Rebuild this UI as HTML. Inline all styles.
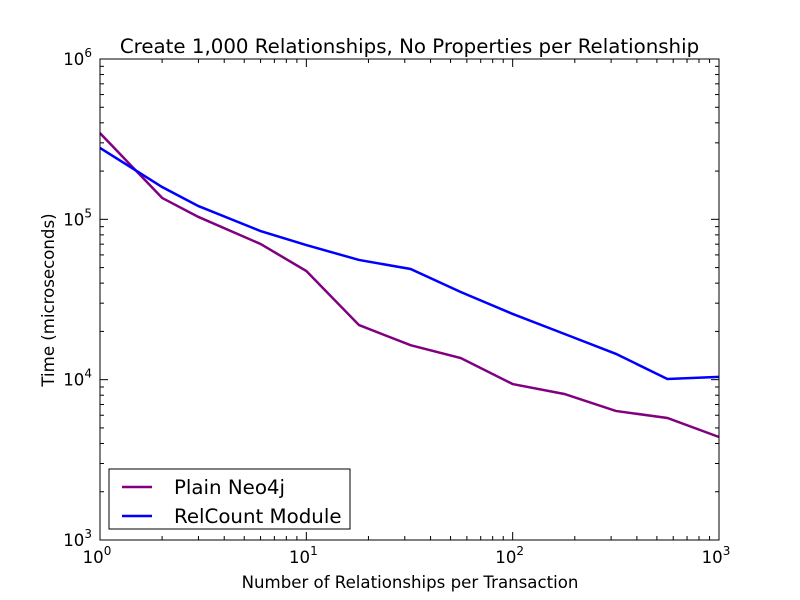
<!DOCTYPE html>
<html><head><meta charset="utf-8"><style>
body{margin:0;background:#fff;}
svg{display:block;font-family:"DejaVu Sans","Liberation Sans",sans-serif;}
</style></head><body>
<svg id="chart" width="800" height="600" viewBox="0 0 800 600" xmlns="http://www.w3.org/2000/svg">
<rect width="800" height="600" fill="#fff"/>
<text x="409.5" y="53" font-size="19.8" text-anchor="middle">Create 1,000 Relationships, No Properties per Relationship</text>
<text x="410" y="588" font-size="16.6" text-anchor="middle">Number of Relationships per Transaction</text>
<text x="54" y="300" font-size="16.6" text-anchor="middle" transform="rotate(-90 54 300)">Time (microseconds)</text>
<g id="plot"></g>
</svg>
<script>
const xValues=[1,2,3,6,10,18,32,56,100,178,316,562,1000];
const plainNeo4j=[345000,136000,103500,70200,47600,21900,16400,13650,9390,8140,6380,5770,4390];
const relCount=[279000,159000,121000,84500,69100,55800,49000,35200,25700,19300,14500,10100,10400];
const xTickExps=[0,1,2,3];
const yTickExps=[3,4,5,6];
const L=100,R=719,T=59,B=540;
const xs=v=>L+(R-L)*(Math.log10(v)-0)/3;
const ys=v=>B-(B-T)*(Math.log10(v)-3)/3;
const NS="http://www.w3.org/2000/svg";
const g=document.getElementById('plot');
function mk(t,a){const e=document.createElementNS(NS,t);for(const k in a)e.setAttribute(k,a[k]);g.appendChild(e);return e;}
[[plainNeo4j,'#800080','line-plain-neo4j'],[relCount,'#0000ff','line-relcount-module']].forEach(([d,c,n])=>{
 const p=mk('polyline',{points:xValues.map((x,i)=>xs(x)+','+ys(d[i])).join(' '),fill:'none',stroke:c,'stroke-width':2.5});
 
 
});
const fr=mk('rect',{x:L,y:T,width:R-L,height:B-T,fill:'none',stroke:'#000','stroke-width':1});


for(let e=0;e<3;e++)for(let m=1;m<10;m++){const x=xs(m*Math.pow(10,e));const len=m==1?8:4;
 mk('line',{x1:x,y1:B,x2:x,y2:B-len,stroke:'#000'});mk('line',{x1:x,y1:T,x2:x,y2:T+len,stroke:'#000'});}
for(let e=3;e<6;e++)for(let m=1;m<10;m++){const y=ys(m*Math.pow(10,e));const len=m==1?8:4;
 mk('line',{x1:L,y1:y,x2:L+len,y2:y,stroke:'#000'});mk('line',{x1:R,y1:y,x2:R-len,y2:y,stroke:'#000'});}
xTickExps.forEach(e=>{const t=mk('text',{x:xs(Math.pow(10,e))-3,y:B+23,'font-size':16.6,'text-anchor':'middle'});
 
 
 t.innerHTML='10<tspan dy="-8" font-size="12">'+e+'</tspan>';});
yTickExps.forEach(e=>{const t=mk('text',{x:L-8,y:ys(Math.pow(10,e))+6,'font-size':16.6,'text-anchor':'end'});
 
 
 t.innerHTML='10<tspan dy="-8" font-size="12">'+e+'</tspan>';});
const lg=mk('rect',{x:109,y:469,width:241,height:60,fill:'#fff',stroke:'#000'});


[['Plain Neo4j','#800080',487],['RelCount Module','#0000ff',516]].forEach(([n,c,y])=>{
 mk('line',{x1:122,y1:y,x2:152,y2:y,stroke:c,'stroke-width':2.5});
 const t=mk('text',{x:174,y:y+7,'font-size':19.8});t.textContent=n;
 
 
});
</script>
</body></html>
